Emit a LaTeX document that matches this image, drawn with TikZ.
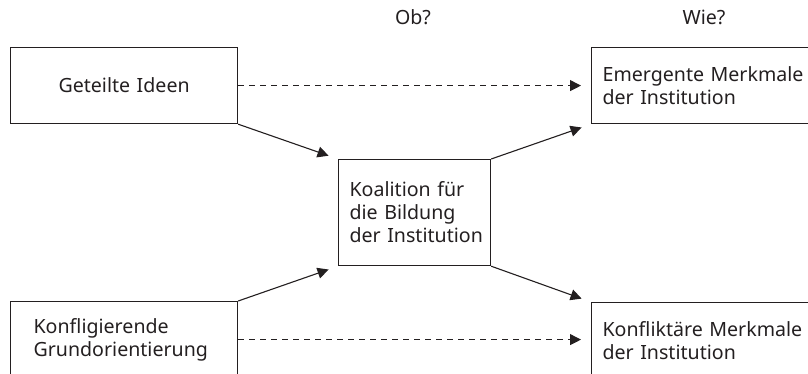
\documentclass[tikz,border=0pt]{standalone}
\usepackage{fontspec}
\setmainfont{Noto Sans}
\usetikzlibrary{arrows.meta}
\definecolor{ink}{HTML}{231F20}
\begin{document}
\begin{tikzpicture}[x=1pt,y=-1pt,
  every node/.style={font=\fontsize{19.6}{23}\selectfont, text=ink,
    execute at begin node={\hyphenpenalty=10000\exhyphenpenalty=10000\hbadness=10000\hfuzz=50pt}},
  box/.style={draw=ink, line width=1.2pt, anchor=north west, inner ysep=0pt},
  arr/.style={draw=ink, line width=1.1pt, -{Triangle[length=11pt,width=11pt]}, shorten >=10pt},
  dash arr/.style={arr, dash pattern=on 6pt off 5pt},
  head/.style={anchor=base}]
\useasboundingbox (0,0) rectangle (808,374);
\clip (0,0) rectangle (808,374);
\node[box, minimum height=76pt, inner xsep=0pt, text width=227pt, align=center] (ideen) at (10,47) {Geteilte Ideen};
\node[box, minimum height=76pt, inner xsep=23pt, text width=181pt, align=left] (konf) at (10,301) {Konfligierende\\Grundorientierung};
\node[box, minimum height=106pt, inner xsep=11pt, text width=130pt, align=left] (koal) at (338,159) {\mbox{Koalition für}\\\mbox{die Bildung}\\\mbox{der Institution}};
\node[box, minimum height=76pt, inner xsep=11pt, text width=218pt, align=left] (emerg) at (591,47) {Emergente Merkmale\\der Institution};
\node[box, minimum height=76pt, inner xsep=11pt, text width=218pt, align=left] (konfl) at (591,302) {Konfliktäre Merkmale\\der Institution};
\node[head] (ob) at (413,25) {Ob?};
\node[head] (wie) at (704,25) {Wie?};
\draw[dash arr] (ideen.east) -- (emerg.west);
\draw[dash arr] (konf.east) -- (konf.east -| konfl.west);
\draw[arr] (ideen.south east) -- (koal.north west);
\draw[arr] (konf.north east) -- (koal.south west);
\draw[arr] (koal.north east) -- (emerg.south west);
\draw[arr] (koal.south east) -- (konfl.north west);
\end{tikzpicture}
\end{document}
